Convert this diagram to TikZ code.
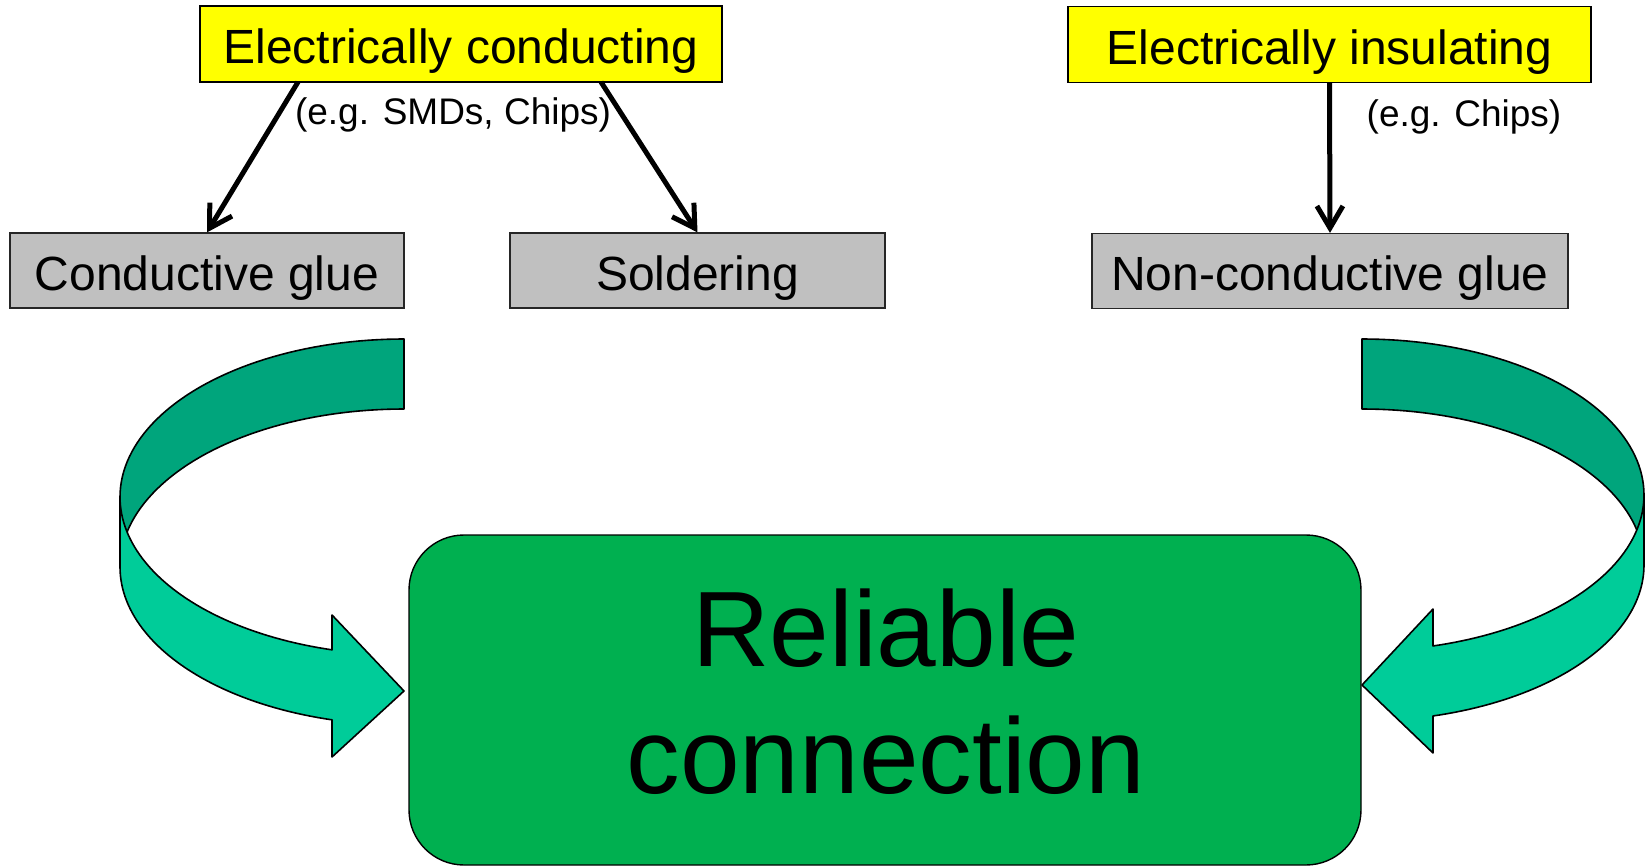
\documentclass[tikz,border=0pt]{standalone}
\usepackage{fontspec}
\setmainfont{Liberation Sans}
\usetikzlibrary{arrows.meta}
\definecolor{ybox}{HTML}{FFFF00}
\definecolor{gbox}{HTML}{C0C0C0}
\definecolor{mainG}{HTML}{00B050}
\definecolor{bandDark}{HTML}{00A57C}
\definecolor{bandLight}{HTML}{00CC99}
\begin{document}
\begin{tikzpicture}[x=0.5pt,y=-0.5pt,
  boxbase/.style={line width=0.6pt, inner sep=0pt, text height=20pt, text depth=0pt,
    font=\fontsize{24}{28}\selectfont},
  yel/.style={boxbase, draw=black, fill=ybox, minimum height=38pt},
  greybox/.style={boxbase, draw=black!85, fill=gbox, minimum height=37.5pt},
  note/.style={inner sep=0pt, font=\fontsize{18.5}{22}\selectfont},
  arr/.style={line width=2.5pt, -{Straight Barb[length=11pt,width=13pt]}},
  ribbon/.style={draw=black, line width=0.8pt, line join=round},
]
\useasboundingbox (0,0) rectangle (1645,866);

% top nodes
\node[yel, minimum width=261pt] (Y1) at (461,44) {Electrically conducting};
\node[yel, minimum width=261.5pt] (Y2) at (1329.5,44.5) {Electrically insulating};
\node[greybox, minimum width=197pt] (G1) at (207,270.5) {Conductive glue};
\node[greybox, minimum width=187.5pt] (G2) at (697.5,270.5) {Soldering};
\node[greybox, minimum width=238pt] (G3) at (1330,271) {Non-conductive glue};

\node[note] (N1) at (453,115) {(e.g. SMDs, Chips)};
\node[note] (N2) at (1464,117) {(e.g. Chips)};

\coordinate (a1) at (298,82);
\coordinate (a2) at (601,82);
\draw[arr] (a1) -- (G1.north);
\draw[arr] (a2) -- (G2.north);
\draw[arr] (Y2.south) -- (G3.north);

% left curved ribbon arrow
\path[ribbon, fill=bandDark]
  plot[domain=90:180, samples=50] ({404+284*cos(\x)},{497-158*sin(\x)})
  -- plot[domain=180:90, samples=50] ({404+284*cos(\x)},{567-158*sin(\x)})
  -- cycle;
\path[ribbon, fill=bandLight]
  plot[domain=180:104.68, samples=50] ({404+284*cos(\x)},{497+158*sin(\x)})
  -- (332,615) -- (404,691) -- (332,757)
  -- plot[domain=104.68:180, samples=50] ({404+284*cos(\x)},{567+158*sin(\x)})
  -- cycle;

% right curved ribbon arrow
\path[ribbon, fill=bandDark]
  plot[domain=90:0, samples=50] ({1362+282*cos(\x)},{495-156*sin(\x)})
  -- plot[domain=0:90, samples=50] ({1362+282*cos(\x)},{565-156*sin(\x)})
  -- cycle;
\path[ribbon, fill=bandLight]
  plot[domain=0:75.42, samples=50] ({1362+282*cos(\x)},{495+156*sin(\x)})
  -- (1433,609) -- (1362,685) -- (1433,753)
  -- plot[domain=75.42:0, samples=50] ({1362+282*cos(\x)},{565+156*sin(\x)})
  -- cycle;

% main box
\node[draw=black, fill=mainG, line width=0.7pt, rounded corners=27.5pt,
  minimum width=476pt, minimum height=165pt, inner sep=0pt] (RC) at (885,700) {};
\node[inner sep=0pt, align=center, font=\fontsize{53.6}{63.5}\selectfont] (RCtext) at (886,692)
  {Reliable\\connection};
\end{tikzpicture}
\end{document}
